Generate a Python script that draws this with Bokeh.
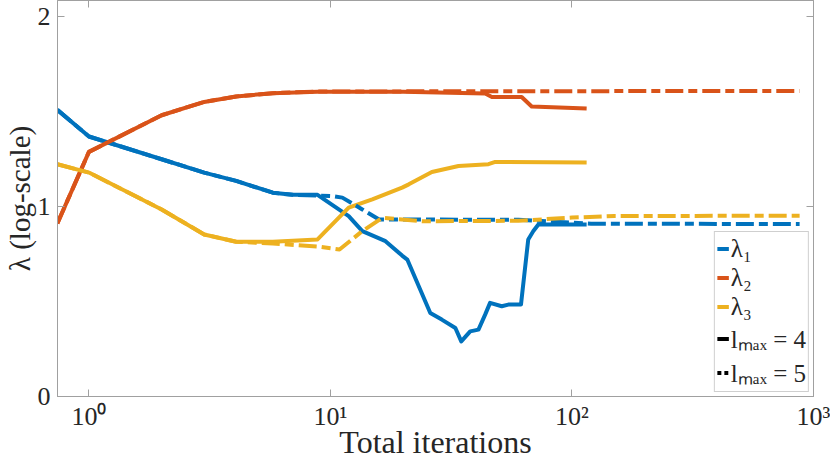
from bokeh.plotting import figure
from bokeh.models import LogAxis, LinearAxis, FixedTicker, Legend, LegendItem
from bokeh.embed import file_html
from bokeh.resources import INLINE

# ---------------- data ----------------
# lambda_1, l_max = 4 (solid) / l_max = 5 (dash-dot)
x_l1_m4 = [0.74, 1, 2, 3, 4.07, 5.77, 6.97, 8.84, 11.9, 13.55, 16.9, 19.8, 20.8, 25.9,
           28.9, 32.9, 34.8, 37.9, 41.0, 43.7, 45.8, 51.2, 54.5, 61.5, 65.9, 69.2, 72.6, 115]
y_l1_m4 = [1.509, 1.369, 1.249, 1.179, 1.135, 1.073, 1.062, 1.062, 0.95, 0.871, 0.818, 0.742,
           0.721, 0.44, 0.405, 0.361, 0.29, 0.343, 0.352, 0.431, 0.493, 0.475, 0.484, 0.484,
           0.827, 0.871, 0.906, 0.906]
x_l1_m5 = [0.74, 1, 2, 3, 4.07, 5.77, 6.97, 8.84, 10.2, 11.2, 13.55, 15.9, 24, 60, 120, 876]
y_l1_m5 = [1.509, 1.369, 1.249, 1.179, 1.135, 1.073, 1.062, 1.058, 1.055, 1.047, 0.985,
           0.932, 0.932, 0.93, 0.91, 0.908]

# lambda_2
x_l2_m4 = [0.74, 1, 2, 3, 4.07, 5.77, 8.84, 20, 43.7, 46.6, 61.9, 68.1, 115]
y_l2_m4 = [0.911, 1.288, 1.481, 1.551, 1.58, 1.597, 1.604, 1.605, 1.595, 1.577, 1.577, 1.527, 1.517]
x_l2_m5 = [0.74, 1, 2, 3, 4.07, 5.77, 8.84, 876]
y_l2_m5 = [0.911, 1.288, 1.481, 1.551, 1.58, 1.597, 1.606, 1.609]

# lambda_3
x_l3_m4 = [0.74, 1, 2, 3, 4.07, 5.77, 8.84, 11.9, 14.9, 19.8, 21.1, 26.3, 33.9, 45.1, 48.1, 115]
y_l3_m4 = [1.223, 1.179, 0.985, 0.853, 0.815, 0.815, 0.827, 0.994, 1.038, 1.10, 1.117, 1.182,
           1.214, 1.223, 1.235, 1.232]
x_l3_m5 = [0.74, 1, 2, 3, 4.07, 5.77, 8.84, 10.9, 13.55, 16.4, 24, 60, 100, 150, 876]
y_l3_m5 = [1.223, 1.179, 0.985, 0.853, 0.815, 0.805, 0.79, 0.774, 0.871, 0.941, 0.923, 0.925,
           0.942, 0.95, 0.952]

x_ticks = [1, 10, 100, 1000]
x_tick_labels = ["10⁰", "10¹", "10²", "10³"]
y_ticks = [0, 1, 2]
series_labels = ["λ₁", "λ₂", "λ₃"]
lmax_labels = ["lₘₐₓ = 4", "lₘₐₓ = 5"]
legend_dummy_x = [1.0]
legend_dummy_y = [float("nan")]

# ---------------- styling ----------------
BLUE, ORANGE, YELLOW = "#0072BD", "#D95319", "#EDB120"
AXC = "#a0a0a0"
TXT = "#262626"
FONT = "Liberation Serif"
LW = 4
DASHDOT = "18 5 9 5"

p = figure(width=830, height=462, x_axis_type="log",
           x_range=(0.741, 1000), y_range=(0, 2.085),
           output_backend="svg", toolbar_location=None,
           min_border_left=54, min_border_right=17, min_border_top=0, min_border_bottom=65)
p.grid.visible = False
p.outline_line_color = AXC
p.background_fill_color = "white"
p.border_fill_color = "white"

kw = dict(line_width=LW, line_join="round", line_cap="butt")
r1 = p.line(x_l1_m4, y_l1_m4, line_color=BLUE, **kw)
r2 = p.line(x_l2_m4, y_l2_m4, line_color=ORANGE, **kw)
r3 = p.line(x_l3_m4, y_l3_m4, line_color=YELLOW, **kw)
p.line(x_l1_m5, y_l1_m5, line_color=BLUE, line_dash=DASHDOT, **kw)
p.line(x_l2_m5, y_l2_m5, line_color=ORANGE, line_dash=DASHDOT, **kw)
p.line(x_l3_m5, y_l3_m5, line_color=YELLOW, line_dash=DASHDOT, **kw)
# legend-only renderers (nothing visible in the plot)
r4 = p.line(legend_dummy_x, legend_dummy_y, line_color="black", line_width=LW)
r5 = p.line(legend_dummy_x, legend_dummy_y, line_color="black", line_width=LW, line_dash="4 3")

# main axes
xa = p.xaxis[0]
xa.ticker = FixedTicker(ticks=x_ticks)
xa.major_label_overrides = {t: l for t, l in zip(x_ticks, x_tick_labels)}
xa.axis_label = "Total iterations"
ya = p.yaxis[0]
ya.ticker = FixedTicker(ticks=y_ticks)
ya.axis_label = "λ (log-scale)"

for ax in (xa, ya):
    ax.axis_line_color = AXC
    ax.major_tick_line_color = AXC
    ax.major_tick_in = 7
    ax.major_tick_out = 0
    ax.minor_tick_line_color = None
    ax.major_label_text_font = FONT
    ax.major_label_text_font_size = "26px"
    ax.major_label_text_color = TXT
    ax.axis_label_text_font = FONT
    ax.axis_label_text_font_style = "normal"
    ax.axis_label_text_color = TXT
xa.major_label_standoff = 5
xa.axis_label_text_font_size = "32px"
xa.axis_label_standoff = -10
ya.major_label_standoff = 7
ya.axis_label_text_font_size = "29px"
ya.axis_label_standoff = -1

# mirrored ticks (box)
top = LogAxis(ticker=FixedTicker(ticks=x_ticks))
right = LinearAxis(ticker=FixedTicker(ticks=y_ticks))
for ax in (top, right):
    ax.axis_line_color = AXC
    ax.major_tick_line_color = AXC
    ax.major_tick_in = 7
    ax.major_tick_out = 0
    ax.minor_tick_line_color = None
    ax.major_label_text_font_size = "1px"
    ax.major_label_text_color = None
    ax.major_label_standoff = 0
p.add_layout(top, "above")
p.add_layout(right, "right")

legend = Legend(items=[LegendItem(label=series_labels[0], renderers=[r1]),
                       LegendItem(label=series_labels[1], renderers=[r2]),
                       LegendItem(label=series_labels[2], renderers=[r3]),
                       LegendItem(label=lmax_labels[0], renderers=[r4]),
                       LegendItem(label=lmax_labels[1], renderers=[r5])],
                location="bottom_right")
legend.margin = 4
legend.padding = 2
legend.spacing = 0
legend.glyph_width = 12
legend.glyph_height = 29
legend.label_height = 29
legend.label_standoff = 2
legend.label_text_font = FONT
legend.label_text_font_size = "25px"
legend.label_text_color = TXT
legend.border_line_color = AXC
legend.border_line_width = 1
legend.background_fill_color = "white"
legend.background_fill_alpha = 1
p.add_layout(legend)

open("out.html", "w").write(file_html(p, INLINE))
